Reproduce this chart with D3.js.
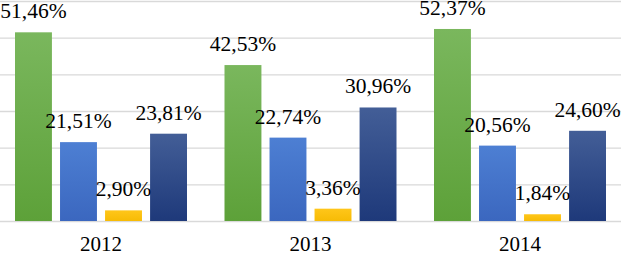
<!DOCTYPE html>
<html>
<head>
<meta charset="utf-8">
<script src="https://cdn.jsdelivr.net/npm/d3@7"></script>
<style>
  body { margin: 0; background: #fff; }
  svg { display: block; }
</style>
</head>
<body>
<div id="chart"></div>
<script>
var years = ["2012", "2013", "2014"];
var seriesKeys = ["green", "blue", "yellow", "navy"];
var greenValues = [51.46, 42.53, 52.37];
var blueValues = [21.51, 22.74, 20.56];
var yellowValues = [2.90, 3.36, 1.84];
var navyValues = [23.81, 30.96, 24.60];
var yTicks = [0, 10, 20, 30, 40, 50, 60];

var width = 621, height = 255;
var serif = "Liberation Serif, DejaVu Serif, serif";

var svg = d3.select("#chart").append("svg")
    .attr("width", width)
    .attr("height", height);

var defs = svg.append("defs");
var gradients = {
    green: ["#7ab75d", "#5da139"],
    blue: ["#4d7fd3", "#3b67bf"],
    yellow: ["#ffc61a", "#f7bb05"],
    navy: ["#435e97", "#1e397a"]
};
seriesKeys.forEach(function(k) {
    var g = defs.append("linearGradient")
        .attr("id", "grad-" + k)
        .attr("x1", 0).attr("y1", 0).attr("x2", 0).attr("y2", 1);
    g.append("stop").attr("offset", "0%").attr("stop-color", gradients[k][0]);
    g.append("stop").attr("offset", "100%").attr("stop-color", gradients[k][1]);
});

var data = years.map(function(year, i) {
    return {
        year: year,
        values: [
            { key: "green", value: greenValues[i] },
            { key: "blue", value: blueValues[i] },
            { key: "yellow", value: yellowValues[i] },
            { key: "navy", value: navyValues[i] }
        ]
    };
});

var x0 = d3.scaleBand()
    .domain(years)
    .range([-3.75, 624.75])
    .paddingInner(0.179)
    .paddingOuter(0.0895);

var x1 = d3.scaleBand()
    .domain(seriesKeys)
    .range([0, x0.bandwidth()])
    .paddingInner(0.18)
    .paddingOuter(0);

var y = d3.scaleLinear()
    .domain([0, 60])
    .range([221, 1]);

// grid lines
var yAxis = d3.axisLeft(y)
    .tickValues(yTicks)
    .tickSize(-width)
    .tickFormat("");

svg.append("g")
    .attr("class", "grid")
    .call(yAxis)
    .call(function(g) {
        g.select(".domain").remove();
        g.selectAll(".tick line")
            .attr("stroke", "#d9d9d9")
            .attr("stroke-width", 1.3);
    });

// x axis labels
var xAxis = d3.axisBottom(x0).tickSize(0).tickPadding(0);
svg.append("g")
    .attr("transform", "translate(0,221)")
    .call(xAxis)
    .attr("font-family", serif)
    .attr("font-size", 21)
    .call(function(g) {
        g.select(".domain").remove();
        g.selectAll(".tick text")
            .attr("dy", null)
            .attr("y", 30)
            .attr("fill", "#000");
    });

var groups = svg.selectAll(".group")
    .data(data)
    .enter()
    .append("g")
    .attr("class", "group")
    .attr("transform", function(d) { return "translate(" + x0(d.year) + ",0)"; });

groups.selectAll("rect")
    .data(function(d) { return d.values; })
    .enter()
    .append("rect")
    .attr("x", function(d) { return x1(d.key); })
    .attr("width", x1.bandwidth())
    .attr("y", function(d) { return y(d.value); })
    .attr("height", function(d) { return y(0) - y(d.value); })
    .attr("fill", function(d) { return "url(#grad-" + d.key + ")"; });

groups.selectAll(".label")
    .data(function(d) { return d.values; })
    .enter()
    .append("text")
    .attr("class", "label")
    .attr("x", function(d) { return x1(d.key) + x1.bandwidth() / 2; })
    .attr("y", function(d) { return y(d.value) - 14; })
    .attr("text-anchor", "middle")
    .attr("font-family", serif)
    .attr("font-size", 21.5)
    .text(function(d) { return d.value.toFixed(2).replace(".", ",") + "%"; });
</script>
</body>
</html>
